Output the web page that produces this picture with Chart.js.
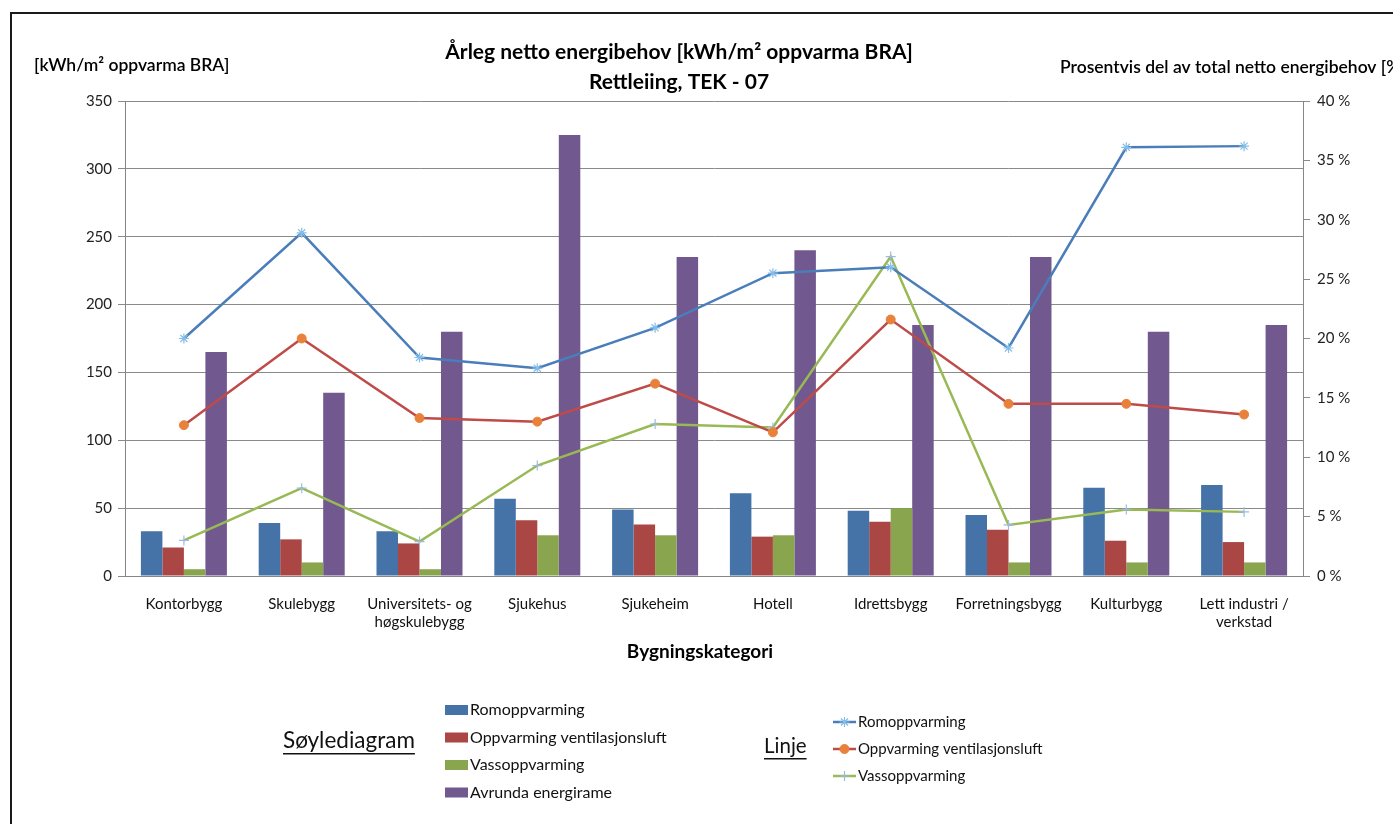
<!DOCTYPE html>
<html>
<head>
<meta charset="utf-8">
<script src="https://cdn.jsdelivr.net/npm/chart.js@4"></script>
<style>
  body { margin: 0; background: #fff; }
  #wrap { width: 1393px; height: 824px; }
</style>
</head>
<body>
<div id="wrap"><canvas id="energyChart" width="1393" height="824"></canvas></div>
<script>
const categories = ['Kontorbygg', 'Skulebygg', ['Universitets- og', 'høgskulebygg'], 'Sjukehus', 'Sjukeheim',
  'Hotell', 'Idrettsbygg', 'Forretningsbygg', 'Kulturbygg', ['Lett industri /', 'verkstad']];

// bars, kWh/m2 (left axis)
const barRom = [33, 39, 33, 57, 49, 61, 48, 45, 65, 67];
const barVent = [21, 27, 24, 41, 38, 29, 40, 34, 26, 25];
const barVann = [5, 10, 5, 30, 30, 30, 50, 10, 10, 10];
const barRamme = [165, 135, 180, 325, 235, 240, 185, 235, 180, 185];

// lines, percent (right axis)
const pctRom = [20.0, 28.9, 18.4, 17.5, 20.9, 25.5, 26.0, 19.2, 36.1, 36.2];
const pctVent = [12.7, 20.0, 13.3, 13.0, 16.2, 12.1, 21.6, 14.5, 14.5, 13.6];
const pctVann = [3.0, 7.4, 2.9, 9.3, 12.8, 12.5, 26.9, 4.3, 5.6, 5.4];

const leftTicksMax = 350, leftStep = 50;
const rightTicksMax = 40, rightStep = 5;

const FONT = 'Lato, "Open Sans", sans-serif';

// Draws titles, frame and the two custom legend blocks
const decorations = {
  id: 'decorations',
  afterDraw(chart) {
    const ctx = chart.ctx;
    ctx.save();
    ctx.strokeStyle = '#1a1a1a';
    ctx.lineWidth = 2;
    ctx.strokeRect(11, 13, 1500, 900);

    ctx.fillStyle = '#000';
    ctx.textBaseline = 'middle';
    ctx.textAlign = 'center';
    ctx.font = 'bold 21px ' + FONT;
    ctx.fillText('Årleg netto energibehov [kWh/m² oppvarma BRA]', 679, 52);
    ctx.fillText('Rettleiing, TEK - 07', 679, 82);
    ctx.font = 'bold 19px ' + FONT;
    ctx.fillText('Bygningskategori', 700, 652);

    ctx.textAlign = 'left';
    ctx.font = '600 17.5px ' + FONT;
    ctx.fillText('[kWh/m² oppvarma BRA]', 34, 65);
    ctx.fillText('Prosentvis del av total netto energibehov [%]', 1060, 67);

    // legend headings
    ctx.fillStyle = '#111';
    const heads = [['Søylediagram', 283, 741, 22.5], ['Linje', 764, 746, 20.5]];
    heads.forEach(([t, x, y, size]) => {
      ctx.font = size + 'px ' + FONT;
      ctx.fillText(t, x, y);
      const w = ctx.measureText(t).width;
      ctx.fillRect(x, y + 12, w, 1.5);
    });

    const ds = chart.data.datasets;
    // bar legend
    ctx.font = '16px ' + FONT;
    ds.filter(d => d.type !== 'line').forEach((d, i) => {
      const y = 710 + i * 27.5;
      ctx.fillStyle = d.backgroundColor;
      ctx.fillRect(445, y - 5, 23, 10);
      ctx.fillStyle = '#111';
      ctx.fillText(d.label, 470, y);
    });
    // line legend
    ctx.font = '15px ' + FONT;
    ds.filter(d => d.type === 'line').forEach((d, i) => {
      const y = 722 + i * 27;
      ctx.strokeStyle = d.borderColor;
      ctx.lineWidth = 2.5;
      ctx.beginPath();
      ctx.moveTo(833, y);
      ctx.lineTo(856, y);
      ctx.stroke();
      ctx.strokeStyle = d.pointBorderColor;
      ctx.fillStyle = d.pointBackgroundColor;
      ctx.lineWidth = d.pointBorderWidth || 1;
      Chart.helpers.drawPoint(ctx, {
        pointStyle: d.pointStyle, radius: d.pointRadius, borderWidth: d.pointBorderWidth || 1
      }, 844.5, y);
      ctx.fillStyle = '#111';
      ctx.fillText(d.label, 858, y);
    });
    ctx.restore();
  }
};

const ctx = document.getElementById('energyChart').getContext('2d');
const chart = new Chart(ctx, {
  type: 'bar',
  data: {
    labels: categories,
    datasets: [
      { label: 'Romoppvarming', data: barRom, backgroundColor: '#4572A7', yAxisID: 'y', order: 1 },
      { label: 'Oppvarming ventilasjonsluft', data: barVent, backgroundColor: '#AA4643', yAxisID: 'y', order: 1 },
      { label: 'Vassoppvarming', data: barVann, backgroundColor: '#89A54E', yAxisID: 'y', order: 1 },
      { label: 'Avrunda energirame', data: barRamme, backgroundColor: '#71588F', yAxisID: 'y', order: 1 },
      { type: 'line', label: 'Romoppvarming', data: pctRom, yAxisID: 'y1', order: 0,
        borderColor: '#4A7EBB', borderWidth: 2.5, pointStyle: 'star', pointRadius: 5,
        pointBorderColor: '#84BDE8', pointBackgroundColor: '#84BDE8', pointBorderWidth: 1.2, tension: 0 },
      { type: 'line', label: 'Oppvarming ventilasjonsluft', data: pctVent, yAxisID: 'y1', order: 0,
        borderColor: '#BE4B48', borderWidth: 2.5, pointStyle: 'circle', pointRadius: 4.5,
        pointBorderColor: '#E8813A', pointBackgroundColor: '#E8813A', pointBorderWidth: 1, tension: 0 },
      { type: 'line', label: 'Vassoppvarming', data: pctVann, yAxisID: 'y1', order: 0,
        borderColor: '#98B954', borderWidth: 2.5, pointStyle: 'cross', pointRadius: 5,
        pointBorderColor: '#9DBAE6', pointBackgroundColor: '#9DBAE6', pointBorderWidth: 1.2, tension: 0 }
    ]
  },
  options: {
    responsive: false,
    animation: false,
    layout: { padding: { top: 101, left: 0, right: 0, bottom: 0 } },
    datasets: { bar: { barPercentage: 1.0, categoryPercentage: 0.73 } },
    plugins: { legend: { display: false }, title: { display: false }, tooltip: { enabled: false } },
    scales: {
      x: {
        grid: { display: false },
        border: { display: true, color: '#868686', width: 1 },
        ticks: { color: '#111', font: { family: FONT, size: 15 }, padding: 11, maxRotation: 0, autoSkip: false },
        afterFit: s => { s.height = 248; }
      },
      y: {
        position: 'left', min: 0, max: leftTicksMax,
        grid: { color: '#8a8a8a', lineWidth: 1, tickLength: 7, tickColor: '#8a8a8a' },
        border: { display: true, color: '#868686' },
        ticks: { stepSize: leftStep, color: '#222', font: { family: FONT, size: 15 }, padding: 6 },
        afterFit: s => { s.width = 125; }
      },
      y1: {
        position: 'right', min: 0, max: rightTicksMax,
        grid: { drawOnChartArea: false, tickLength: 7, tickColor: '#8a8a8a' },
        border: { display: true, color: '#868686' },
        ticks: { stepSize: rightStep, color: '#222', font: { family: FONT, size: 15 }, padding: 7,
          callback: v => v + ' %' },
        afterFit: s => { s.width = 90; }
      }
    }
  },
  plugins: [decorations]
});
</script>
</body>
</html>
